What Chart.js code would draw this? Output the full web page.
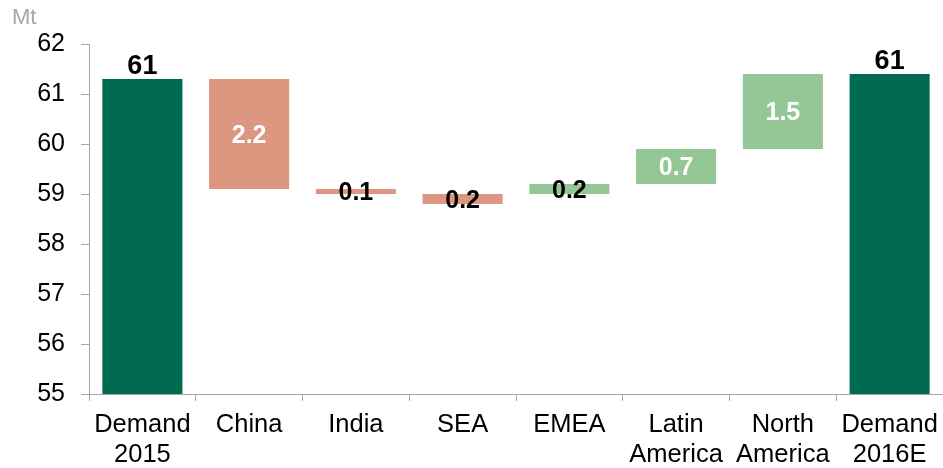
<!DOCTYPE html>
<html>
<head>
<meta charset="utf-8">
<script src="https://cdn.jsdelivr.net/npm/chart.js@4"></script>
<style>
  html, body { margin: 0; padding: 0; background: #ffffff; }
  #wrap { position: relative; width: 943px; height: 468px; }
  #unit { position: absolute; left: 12px; top: 4px; font: 22px "Liberation Sans", Arial, sans-serif; color: #a6a6a6; }
</style>
</head>
<body>
<div id="wrap">
  <canvas id="chart" width="943" height="468"></canvas>
  <div id="unit">Mt</div>
</div>
<script>
// Demand bridge 2015 -> 2016E, Mt
const categories = [
  ['Demand', '2015'], 'China', 'India', 'SEA', 'EMEA',
  ['Latin', 'America'], ['North', 'America'], ['Demand', '2016E']
];
// each bar spans from rangeStart to rangeEnd
const rangeStart = [55, 59.1, 59.0, 58.8, 59.0, 59.2, 59.9, 55];
const rangeEnd   = [61.3, 61.3, 59.1, 59.0, 59.2, 59.9, 61.4, 61.4];
// 'total' bars show the demand level, 'down'/'up' the regional change
const barKind = ['total', 'down', 'down', 'down', 'up', 'up', 'up', 'total'];
const yTicks = [55, 56, 57, 58, 59, 60, 61, 62];

const kindColor = { total: '#006A50', down: '#DD9680', up: '#94C795' };
const FONT = '"Liberation Sans", Arial, sans-serif';
const AXIS_GREY = '#a6a6a6';

const bars = rangeStart.map((s, i) => [s, rangeEnd[i]]);

// value labels: totals above the bar, changes centred on the bar
const valueLabels = {
  id: 'valueLabels',
  afterDatasetsDraw(chart) {
    const ctx = chart.ctx;
    const meta = chart.getDatasetMeta(0);
    ctx.save();
    ctx.textAlign = 'center';
    meta.data.forEach((el, i) => {
      const kind = barKind[i];
      const top = Math.min(el.y, el.base);
      const bottom = Math.max(el.y, el.base);
      if (kind === 'total') {
        ctx.font = 'bold 27px ' + FONT;
        ctx.fillStyle = '#000000';
        ctx.textBaseline = 'alphabetic';
        ctx.fillText(String(Math.round(rangeEnd[i])), el.x, top - 5);
      } else {
        const delta = Math.abs(rangeEnd[i] - rangeStart[i]);
        const tall = (bottom - top) > 30;
        ctx.font = 'bold 25px ' + FONT;
        ctx.fillStyle = tall ? '#ffffff' : '#000000';
        ctx.textBaseline = 'middle';
        ctx.fillText(delta.toFixed(1), el.x, (top + bottom) / 2 + 2);
      }
    });
    ctx.restore();
  }
};

new Chart(document.getElementById('chart'), {
  type: 'bar',
  data: {
    labels: categories,
    datasets: [{
      data: bars,
      backgroundColor: barKind.map(k => kindColor[k]),
      borderWidth: 0,
      barPercentage: 0.75,
      categoryPercentage: 1.0
    }]
  },
  options: {
    responsive: false,
    animation: false,
    layout: { padding: { top: 44, right: 0, left: 0, bottom: 0 } },
    plugins: {
      legend: { display: false },
      tooltip: { enabled: false }
    },
    scales: {
      x: {
        grid: {
          offset: true,
          drawOnChartArea: false,
          drawTicks: true,
          tickLength: 7,
          color: AXIS_GREY
        },
        border: { color: AXIS_GREY, width: 1 },
        ticks: {
          color: '#000000',
          font: { family: FONT, size: 25.5, lineHeight: 1.18 },
          padding: 9,
          maxRotation: 0,
          autoSkip: false
        },
        afterFit(scale) {
          scale.height = 74;
          scale.paddingLeft = 0;
          scale.paddingRight = 0;
        }
      },
      y: {
        min: yTicks[0],
        max: yTicks[yTicks.length - 1],
        afterBuildTicks(scale) { scale.ticks = yTicks.map(v => ({ value: v })); },
        grid: {
          drawOnChartArea: false,
          drawTicks: true,
          tickLength: 8,
          color: AXIS_GREY
        },
        border: { color: AXIS_GREY, width: 1 },
        ticks: {
          color: '#000000',
          font: { family: FONT, size: 25 },
          padding: 16
        },
        afterFit(scale) { scale.width = 89; }
      }
    }
  },
  plugins: [valueLabels]
});
</script>
</body>
</html>
